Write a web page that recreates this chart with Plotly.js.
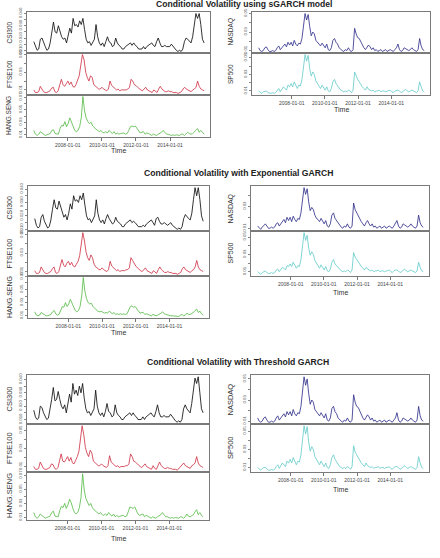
<!DOCTYPE html>
<html><head><meta charset="utf-8">
<script src="https://cdn.plot.ly/plotly-3.0.1.min.js"></script>
<style>html,body{margin:0;padding:0;background:#fff}#chart{width:440px;height:558px}</style>
</head><body><div id="chart"></div>
<script>
const modelTitles=['Conditional Volatility using sGARCH model','Conditional Volatility with Exponential GARCH','Conditional Volatility with Threshold GARCH'];
const seriesNames=['CSI300','FTSE100','HANG.SENG','NASDAQ','SP500'];
const xTickDates=['2008-01-01','2010-01-01','2012-01-01','2014-01-01'];
const startDate='2006-01-03', endDate='2015-12-31';

// sGARCH
const csi300_s=[.017,.013,.010,.011,.019,.020,.016,.013,.010,.011,.016,.024,.033,.025,.024,.030,.026,.021,.019,.020,.016,.021,.028,.024,.036,.030,.031,.029,.034,.031,.036,.027,.019,.016,.017,.014,.016,.019,.031,.021,.016,.014,.016,.013,.017,.021,.017,.016,.013,.014,.020,.016,.014,.013,.011,.011,.013,.014,.015,.016,.014,.016,.014,.013,.011,.011,.011,.013,.011,.013,.014,.015,.016,.014,.013,.017,.020,.016,.013,.013,.014,.013,.013,.013,.015,.013,.011,.010,.009,.010,.009,.011,.017,.020,.019,.017,.016,.021,.033,.040,.036,.040,.031,.019,.016];
const ftse100_s=[.010,.007,.007,.008,.014,.011,.008,.007,.007,.008,.009,.012,.013,.008,.007,.009,.016,.022,.016,.014,.017,.020,.016,.019,.014,.013,.016,.020,.026,.038,.050,.044,.030,.024,.020,.026,.024,.016,.014,.013,.011,.011,.013,.011,.010,.009,.011,.020,.015,.013,.011,.010,.011,.009,.010,.010,.010,.010,.011,.013,.022,.020,.016,.015,.013,.011,.010,.009,.011,.013,.010,.009,.008,.007,.010,.008,.007,.011,.014,.011,.009,.008,.008,.009,.008,.008,.007,.007,.007,.006,.007,.008,.011,.013,.011,.010,.009,.008,.010,.011,.013,.020,.014,.011,.010,.009];
const hangseng_s=[.017,.011,.009,.011,.015,.013,.010,.009,.010,.011,.012,.017,.018,.012,.011,.011,.020,.025,.024,.031,.023,.028,.037,.031,.023,.017,.015,.017,.023,.037,.071,.048,.037,.031,.028,.030,.024,.021,.019,.017,.015,.017,.014,.013,.015,.013,.017,.014,.012,.015,.011,.013,.011,.012,.012,.013,.011,.012,.017,.023,.024,.023,.024,.020,.015,.013,.014,.015,.011,.013,.012,.011,.009,.011,.010,.009,.011,.012,.014,.017,.013,.011,.011,.010,.009,.010,.009,.010,.009,.009,.011,.011,.009,.011,.014,.012,.011,.012,.014,.017,.020,.014,.017,.013,.011];
const nasdaq_s=[.013,.010,.009,.010,.013,.014,.011,.009,.009,.010,.009,.010,.013,.015,.011,.013,.015,.017,.014,.019,.016,.019,.015,.021,.017,.015,.018,.017,.023,.038,.050,.043,.049,.036,.026,.030,.028,.021,.019,.017,.015,.018,.015,.013,.017,.011,.010,.013,.021,.023,.019,.017,.013,.011,.010,.009,.011,.010,.013,.010,.009,.011,.034,.028,.024,.023,.019,.015,.013,.011,.014,.016,.014,.011,.013,.010,.011,.009,.010,.011,.009,.010,.011,.009,.010,.011,.010,.009,.011,.013,.017,.011,.009,.010,.013,.012,.011,.010,.011,.013,.011,.010,.009,.011,.023,.015,.011,.010];
const sp500_s=[.010,.008,.007,.009,.010,.010,.008,.007,.007,.008,.007,.008,.011,.013,.009,.012,.015,.013,.011,.017,.015,.019,.015,.021,.016,.013,.017,.016,.024,.040,.054,.046,.053,.037,.028,.033,.030,.022,.019,.016,.013,.017,.013,.011,.015,.010,.009,.013,.021,.024,.019,.016,.013,.011,.010,.009,.010,.009,.011,.010,.008,.011,.033,.027,.024,.021,.017,.015,.013,.011,.015,.012,.011,.010,.011,.009,.010,.010,.011,.009,.010,.010,.009,.010,.010,.011,.009,.008,.010,.011,.011,.010,.008,.009,.011,.012,.010,.009,.010,.011,.010,.009,.008,.010,.021,.015,.010,.009];

// eGARCH
const csi300_e=[.018,.013,.011,.012,.019,.021,.016,.013,.011,.012,.017,.025,.032,.026,.025,.031,.027,.022,.019,.021,.017,.022,.029,.025,.035,.031,.032,.030,.035,.032,.037,.028,.020,.017,.018,.015,.017,.020,.032,.022,.017,.015,.017,.014,.018,.021,.018,.016,.014,.015,.019,.016,.015,.014,.012,.012,.014,.015,.016,.017,.015,.016,.015,.013,.012,.012,.012,.013,.012,.014,.015,.016,.017,.015,.013,.018,.019,.016,.014,.014,.015,.014,.013,.014,.015,.013,.012,.011,.010,.011,.010,.012,.018,.021,.019,.018,.017,.022,.032,.041,.035,.041,.032,.020,.016];
const ftse100_e=[.011,.008,.008,.009,.015,.012,.009,.008,.008,.009,.010,.013,.015,.009,.008,.010,.018,.023,.017,.015,.019,.021,.017,.020,.016,.015,.018,.021,.027,.040,.052,.043,.031,.025,.022,.028,.025,.018,.015,.014,.012,.012,.014,.012,.011,.010,.012,.021,.016,.014,.012,.011,.012,.010,.011,.011,.011,.012,.012,.014,.025,.022,.018,.016,.014,.012,.011,.010,.012,.014,.011,.010,.009,.008,.011,.009,.008,.012,.015,.012,.010,.009,.009,.010,.009,.009,.008,.008,.008,.007,.008,.009,.013,.015,.012,.011,.010,.009,.011,.012,.015,.022,.015,.012,.011,.010];
const hangseng_e=[.016,.011,.010,.011,.015,.013,.011,.010,.010,.011,.012,.016,.018,.013,.011,.012,.019,.024,.023,.030,.024,.028,.035,.030,.024,.018,.016,.018,.024,.040,.068,.047,.036,.030,.028,.029,.024,.021,.019,.017,.016,.017,.015,.014,.015,.014,.017,.015,.013,.015,.012,.013,.012,.013,.012,.013,.012,.013,.018,.024,.025,.023,.024,.020,.016,.014,.015,.015,.012,.013,.012,.011,.010,.012,.011,.010,.011,.012,.014,.016,.013,.012,.011,.010,.010,.010,.010,.010,.010,.009,.011,.012,.010,.011,.014,.012,.012,.013,.015,.018,.020,.015,.017,.013,.011];
const nasdaq_e=[.012,.010,.009,.011,.013,.014,.012,.010,.010,.011,.010,.011,.014,.015,.012,.014,.016,.018,.015,.020,.017,.020,.016,.021,.018,.016,.019,.018,.024,.036,.047,.041,.046,.034,.026,.029,.027,.022,.019,.018,.016,.019,.016,.014,.017,.012,.011,.014,.022,.024,.019,.017,.014,.012,.011,.010,.012,.011,.014,.011,.010,.012,.033,.027,.024,.022,.019,.016,.014,.012,.015,.017,.014,.012,.014,.011,.012,.010,.011,.012,.010,.011,.012,.010,.011,.012,.011,.010,.012,.014,.017,.012,.010,.011,.014,.013,.012,.011,.012,.014,.012,.011,.010,.012,.022,.015,.012,.011];
const sp500_e=[.010,.008,.007,.009,.010,.011,.009,.008,.008,.009,.008,.009,.012,.013,.010,.012,.015,.014,.012,.017,.016,.019,.016,.021,.017,.014,.017,.016,.024,.041,.055,.046,.052,.037,.029,.033,.030,.023,.020,.017,.014,.018,.014,.012,.016,.011,.010,.013,.021,.024,.019,.017,.014,.012,.011,.010,.011,.010,.012,.011,.009,.012,.032,.027,.024,.021,.018,.016,.014,.012,.015,.013,.012,.011,.012,.010,.011,.011,.012,.010,.011,.011,.010,.011,.011,.012,.010,.009,.011,.012,.012,.011,.009,.010,.012,.013,.011,.010,.011,.012,.011,.010,.009,.011,.021,.015,.011,.010];

// tGARCH
const csi300_t=[.017,.012,.010,.011,.020,.019,.015,.012,.010,.011,.017,.025,.034,.024,.025,.031,.025,.020,.018,.021,.015,.022,.029,.023,.037,.029,.032,.028,.035,.030,.037,.026,.018,.015,.016,.013,.015,.018,.032,.020,.015,.013,.015,.012,.016,.022,.016,.015,.012,.013,.021,.015,.013,.012,.010,.010,.012,.013,.014,.015,.013,.015,.013,.012,.010,.010,.010,.012,.010,.012,.013,.014,.015,.013,.012,.016,.021,.015,.012,.012,.013,.012,.012,.012,.014,.012,.010,.009,.008,.009,.008,.010,.018,.021,.018,.016,.015,.022,.034,.041,.037,.042,.030,.018,.015];
const ftse100_t=[.010,.007,.007,.008,.015,.011,.008,.007,.007,.008,.009,.013,.012,.008,.007,.009,.017,.024,.016,.015,.018,.021,.016,.020,.014,.013,.017,.021,.027,.040,.055,.045,.031,.025,.021,.028,.025,.016,.014,.013,.011,.011,.013,.011,.010,.009,.011,.022,.015,.013,.011,.010,.011,.009,.010,.010,.010,.011,.011,.013,.024,.021,.016,.015,.013,.011,.010,.009,.011,.013,.010,.009,.008,.007,.011,.008,.007,.012,.015,.011,.009,.008,.008,.009,.008,.008,.007,.007,.007,.006,.008,.009,.012,.014,.011,.010,.009,.008,.011,.012,.014,.021,.014,.011,.010,.009];
const hangseng_t=[.017,.011,.009,.011,.015,.013,.010,.009,.010,.011,.012,.017,.019,.012,.011,.011,.020,.026,.024,.030,.023,.028,.036,.031,.023,.017,.015,.017,.024,.038,.072,.049,.037,.031,.027,.030,.024,.021,.019,.017,.015,.017,.014,.013,.015,.013,.017,.014,.012,.015,.011,.013,.011,.012,.012,.013,.011,.012,.018,.025,.024,.023,.025,.020,.015,.013,.014,.015,.011,.013,.012,.011,.009,.011,.010,.009,.011,.012,.014,.017,.013,.011,.011,.010,.009,.010,.009,.010,.009,.009,.011,.011,.009,.011,.015,.012,.011,.012,.014,.018,.021,.014,.017,.013,.011];
const nasdaq_t=[.013,.010,.009,.010,.013,.014,.011,.009,.009,.010,.009,.010,.013,.015,.011,.013,.015,.017,.014,.019,.016,.019,.015,.021,.017,.015,.018,.017,.024,.040,.052,.044,.050,.036,.026,.030,.028,.021,.019,.017,.015,.018,.015,.013,.017,.011,.010,.013,.022,.024,.019,.017,.013,.011,.010,.009,.011,.010,.013,.010,.009,.011,.035,.028,.024,.023,.019,.015,.013,.011,.014,.016,.014,.011,.013,.010,.011,.009,.010,.011,.009,.010,.011,.009,.010,.011,.010,.009,.011,.013,.018,.011,.009,.010,.013,.012,.011,.010,.011,.013,.011,.010,.009,.011,.024,.015,.011,.010];
const sp500_t=[.010,.008,.007,.009,.010,.010,.008,.007,.007,.008,.007,.008,.011,.013,.009,.012,.015,.013,.011,.017,.015,.019,.015,.021,.016,.013,.017,.016,.024,.042,.056,.047,.055,.038,.028,.033,.030,.022,.019,.016,.013,.017,.013,.011,.015,.010,.009,.013,.021,.024,.019,.016,.013,.011,.010,.009,.010,.009,.011,.010,.008,.011,.034,.027,.024,.021,.017,.015,.013,.011,.015,.012,.011,.010,.011,.009,.010,.010,.011,.009,.010,.010,.009,.010,.010,.011,.009,.008,.010,.011,.011,.010,.008,.009,.011,.012,.010,.009,.010,.011,.010,.009,.008,.010,.022,.015,.010,.009];

const csiTicks=[0.010,0.015,0.020,0.025,0.030,0.035,0.040];
const csiTickText=['0.010','','0.020','','0.030','','0.040'];
const pctTicks5=[0.01,0.02,0.03,0.04,0.05];
const pctTickText5=['0.01','','0.03','','0.05'];
const pctTicks7=[0.01,0.02,0.03,0.04,0.05,0.06,0.07];
const pctTickText7=['0.01','','0.03','','0.05','','0.07'];

const W=440,H=558;
const colors={'CSI300':'#111111','FTSE100':'#d0384a','HANG.SENG':'#5bbd4b','NASDAQ':'#34348e','SP500':'#6acccc'};
const ticks={'CSI300':[csiTicks,csiTickText],'FTSE100':[pctTicks5,pctTickText5],'HANG.SENG':[pctTicks7,pctTickText7],'NASDAQ':[pctTicks5,pctTickText5],'SP500':[pctTicks5,pctTickText5]};
const modelData=[
 {'CSI300':csi300_s,'FTSE100':ftse100_s,'HANG.SENG':hangseng_s,'NASDAQ':nasdaq_s,'SP500':sp500_s},
 {'CSI300':csi300_e,'FTSE100':ftse100_e,'HANG.SENG':hangseng_e,'NASDAQ':nasdaq_e,'SP500':sp500_e},
 {'CSI300':csi300_t,'FTSE100':ftse100_t,'HANG.SENG':hangseng_t,'NASDAQ':nasdaq_t,'SP500':sp500_t}
];
// layout geometry (pixels)
const geom=[
 {tx:244,ty:4.5,lab:6.5,L:{x0:27,x1:210,rows:[[12,53],[53,95],[95,137]],time:150},R:{x0:252,x1:430,rows:[[12,53],[53,95]],time:109}},
 {tx:238,ty:173,lab:7,L:{x0:28,x1:209,rows:[[186,231],[231,276],[276,318]],time:332},R:{x0:251,x1:429,rows:[[186,231],[231,276]],time:292}},
 {tx:238,ty:362,lab:7.5,L:{x0:27,x1:209,rows:[[375,424],[424,472],[472,520]],time:538},R:{x0:251,x1:429,rows:[[375,424],[424,472]],time:489}}
];
function makeDates(n){const a=Date.parse(startDate),b=Date.parse(endDate);return Array.from({length:n},(_,i)=>new Date(a+(b-a)*i/(n-1)).toISOString().slice(0,10));}

const traces=[],layout={width:W,height:H,margin:{l:0,r:0,t:0,b:0},paper_bgcolor:'#fff',plot_bgcolor:'#fff',showlegend:false,font:{family:'Liberation Sans, Arial, sans-serif'},annotations:[]};
const px=x=>x/W, py=y=>1-y/H;
let k=0;
geom.forEach((g,m)=>{
  layout.annotations.push({text:'<b>'+modelTitles[m]+'</b>',x:px(g.tx),y:py(g.ty),xref:'paper',yref:'paper',showarrow:false,xanchor:'center',yanchor:'middle',font:{size:8.6,color:'#222'}});
  [['L',['CSI300','FTSE100','HANG.SENG'],9],['R',['NASDAQ','SP500'],230]].forEach(([side,names,labx])=>{
    const c=g[side];
    names.forEach((nm,i)=>{
      k++;
      const vals=modelData[m][nm];
      const mn=Math.min(...vals),mx=Math.max(...vals),pad=(mx-mn)*0.04;
      const xa=k===1?'xaxis':'xaxis'+k, ya=k===1?'yaxis':'yaxis'+k;
      const bottom=i===names.length-1;
      traces.push({x:makeDates(vals.length),y:vals,type:'scatter',mode:'lines',line:{color:colors[nm],width:0.85},xaxis:'x'+(k===1?'':k),yaxis:'y'+(k===1?'':k),hoverinfo:'skip'});
      layout[xa]={type:'date',domain:[px(c.x0),px(c.x1)],anchor:'y'+(k===1?'':k),range:['2005-08-10','2016-05-05'],showgrid:false,zeroline:false,showline:true,mirror:true,linecolor:'#7a7a7a',linewidth:1,
        tickvals:bottom?xTickDates:[],ticktext:bottom?xTickDates:[],ticks:bottom?'outside':'',ticklen:2.5,tickcolor:'#777',tickfont:{size:5,color:'#444'},showticklabels:bottom,automargin:false};
      layout[ya]={domain:[py(c.rows[i][1]),py(c.rows[i][0])],anchor:'x'+(k===1?'':k),range:[mn-pad,mx+pad],showgrid:false,zeroline:false,showline:true,mirror:true,linecolor:'#7a7a7a',linewidth:1,
        tickvals:ticks[nm][0],ticktext:ticks[nm][1],ticks:'outside',ticklen:2,tickcolor:'#888',tickfont:{size:4.3,color:'#555'},tickangle:-90,automargin:false};
      layout.annotations.push({text:nm,x:px(labx),y:py((c.rows[i][0]+c.rows[i][1])/2),xref:'paper',yref:'paper',showarrow:false,textangle:-90,xanchor:'center',yanchor:'middle',font:{size:g.lab,color:'#333'}});
    });
    layout.annotations.push({text:'Time',x:px((c.x0+c.x1)/2),y:py(c.time),xref:'paper',yref:'paper',showarrow:false,xanchor:'center',yanchor:'middle',font:{size:7,color:'#333'}});
  });
});
Plotly.newPlot('chart',traces,layout,{displayModeBar:false,staticPlot:true});
</script></body></html>
